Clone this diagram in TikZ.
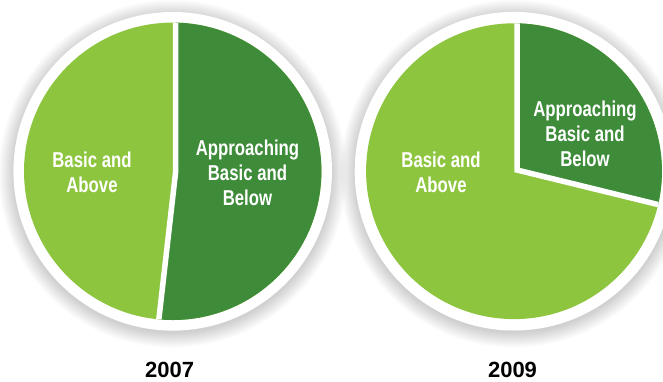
\documentclass[tikz,border=0pt]{standalone}
\usepackage{fontspec}
\setmainfont{Liberation Sans}
\newfontfamily\condfont{Liberation Sans}[FakeStretch=0.78]
\definecolor{lightg}{RGB}{141,197,63}
\definecolor{darkg}{RGB}{62,139,58}
\tikzset{
  lbl/.style={text=white, font=\condfont\bfseries\fontsize{21.5}{25}\selectfont, inner sep=0pt, anchor=base},
  yearlbl/.style={text=black, font=\bfseries\fontsize{22}{26}\selectfont, inner sep=0pt, anchor=base},
  gapline/.style={white, line width=5.5pt, line join=miter},
}
\begin{document}
\begin{tikzpicture}[x=1pt,y=-1pt]
\useasboundingbox (0,0) rectangle (663,381);
% centres
\coordinate (cL) at (172.7,171.3);
\coordinate (cR) at (514,171.2);
% soft shadows
\foreach \c in {cL,cR}{
  \foreach \k in {0,...,15}{
    \fill[black,opacity=0.012] ([yshift=-2.5pt]\c) circle[radius=159pt+\k pt];
  }
}
% white rings
\fill[white] (cL) circle[radius=159.3pt];
\fill[white] (cR) circle[radius=159.3pt];
% ---- left pie (2007)
\fill[lightg] (cL) circle[radius=148.7pt];
\coordinate (lTop) at (175.5,0);
\coordinate (lV) at (175.5,173);
\coordinate (lBot) at (156.5,340);
\begin{scope}
  \clip (cL) circle[radius=148.7pt];
  \fill[darkg] (lTop) -- (lV) -- (lBot) -- (400,340) -- (400,0) -- cycle;
  \draw[gapline] (lTop) -- (lV) -- (lBot);
\end{scope}
% ---- right pie (2009)
\fill[lightg] (cR) circle[radius=147.9pt];
\coordinate (rTop) at (517,0);
\coordinate (rV) at (517,170);
\coordinate (rEnd) at (700,214.8);
\begin{scope}
  \clip (cR) circle[radius=147.9pt];
  \fill[darkg] (rTop) -- (rV) -- (rEnd) -- (700,0) -- cycle;
  \draw[gapline] (rTop) -- (rV) -- (rEnd);
\end{scope}
% ---- labels
\node[lbl] (lA1) at (92,167.7) {Basic and};
\node[lbl] (lA2) at (92,192.5) {Above};
\node[lbl] (lB1) at (247.5,155) {Approaching};
\node[lbl] (lB2) at (247.5,180) {Basic and};
\node[lbl] (lB3) at (247.5,205) {Below};
\node[lbl] (rA1) at (441,167) {Basic and};
\node[lbl] (rA2) at (441,192) {Above};
\node[lbl] (rB1) at (585,116.7) {Approaching};
\node[lbl] (rB2) at (585,141.7) {Basic and};
\node[lbl] (rB3) at (585,166.7) {Below};
\node[yearlbl] (y1) at (169.7,377.5) {2007};
\node[yearlbl] (y2) at (512.5,377.5) {2009};
\end{tikzpicture}
\end{document}
